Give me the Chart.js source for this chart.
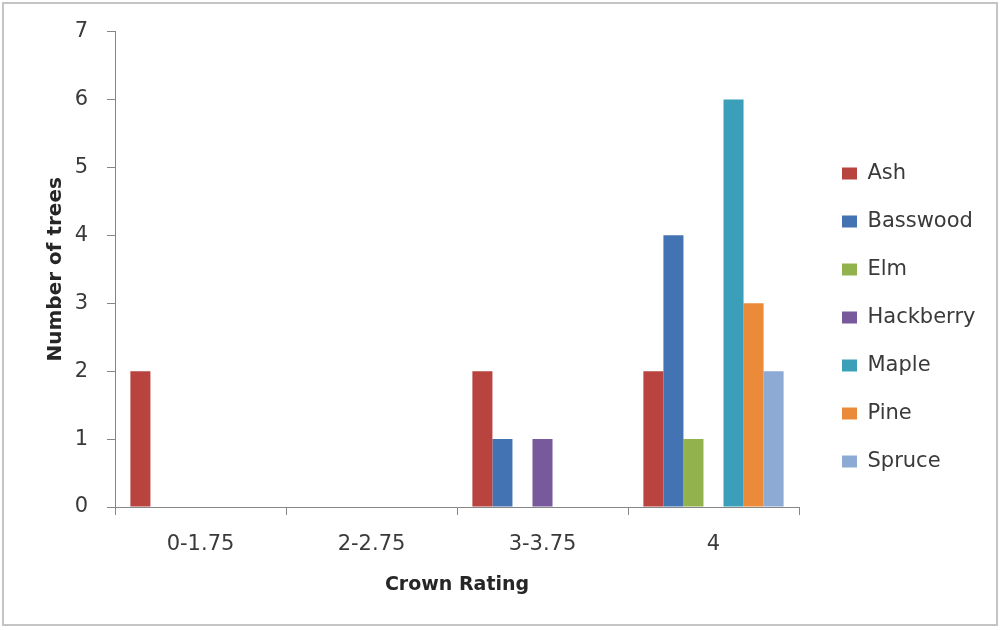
<!DOCTYPE html>
<html>
<head>
<meta charset="utf-8">
<script src="https://cdn.jsdelivr.net/npm/chart.js@4.4.1/dist/chart.umd.min.js"></script>
<style>
  body { margin: 0; background: #fff; }
  #frame { position: absolute; left: 2px; top: 2px; width: 996px; height: 624px; box-sizing: border-box; border: 2px solid #c4c4c4; }
  #myChart { position: absolute; left: 0; top: 0; }
</style>
</head>
<body>
<div id="frame"></div>
<canvas id="myChart" width="1001" height="630"></canvas>
<script>
/** DATA **/
const categories = ['0-1.75', '2-2.75', '3-3.75', '4'];
const species = ['Ash', 'Basswood', 'Elm', 'Hackberry', 'Maple', 'Pine', 'Spruce'];
const ash = [2, 0, 2, 2];
const basswood = [0, 0, 1, 4];
const elm = [0, 0, 0, 1];
const hackberry = [0, 0, 1, 0];
const maple = [0, 0, 0, 6];
const pine = [0, 0, 0, 3];
const spruce = [0, 0, 0, 2];
const colors = ['#B8433F', '#4373B3', '#92B24E', '#77599C', '#3B9FB9', '#EB8A38', '#8DAAD5'];

const seriesValues = [ash, basswood, elm, hackberry, maple, pine, spruce];

const data = {
  labels: categories,
  datasets: species.map((name, i) => ({
    label: name,
    data: seriesValues[i],
    backgroundColor: colors[i],
    borderWidth: 0,
    categoryPercentage: 0.82,
    barPercentage: 1
  }))
};

const fontFamily = '"DejaVu Sans", sans-serif';
const axisColor = '#868686';

// legend box width fixed so the plot ends where the reference does
const legendFix = {
  id: 'legendFix',
  beforeInit(chart) {
    const originalFit = chart.legend.fit;
    chart.legend.fit = function fit() {
      originalFit.bind(chart.legend)();
      this.width = 202;
    };
  },
  afterLayout(chart) {
    const lg = chart.legend;
    const dx = 815 - lg.left;
    const dy = 136 - lg.top;
    lg.left += dx; lg.right += dx;
    lg.top += dy; lg.bottom += dy;
  }
};

const config = {
  type: 'bar',
  data,
  options: {
    responsive: false,
    animation: false,
    devicePixelRatio: 1,
    layout: { padding: { top: 31, right: 0, bottom: 0, left: 0 } },
    plugins: {
      tooltip: { enabled: false },
      legend: {
        position: 'right',
        align: 'start',
        labels: {
          boxWidth: 15,
          boxHeight: 12,
          padding: 27,
          color: '#3a3a3a',
          font: { family: fontFamily, size: 21 }
        }
      }
    },
    scales: {
      x: {
        afterFit(scale) { scale.height = 123; },
        grid: { display: true, drawOnChartArea: false, drawTicks: true, tickLength: 8, color: axisColor },
        border: { display: true, color: axisColor },
        ticks: { color: '#3a3a3a', padding: 17, font: { family: fontFamily, size: 21 } },
        title: {
          display: true,
          text: 'Crown Rating',
          color: '#262626',
          font: { family: fontFamily, size: 19, weight: 'bold' },
          padding: { top: 0, bottom: 34 }
        }
      },
      y: {
        min: 0,
        max: 7,
        afterFit(scale) { scale.width = 115; },
        grid: { display: true, drawOnChartArea: false, drawTicks: true, tickLength: 8, color: axisColor },
        border: { display: true, color: axisColor },
        ticks: { stepSize: 1, color: '#3a3a3a', padding: 19, font: { family: fontFamily, size: 21 } },
        title: {
          display: true,
          text: 'Number of trees',
          color: '#262626',
          font: { family: fontFamily, size: 20, weight: 'bold' },
          padding: { top: 44, bottom: 0 }
        }
      }
    }
  },
  plugins: [legendFix]
};

var myChart = new Chart(document.getElementById('myChart'), config);
</script>
</body>
</html>
